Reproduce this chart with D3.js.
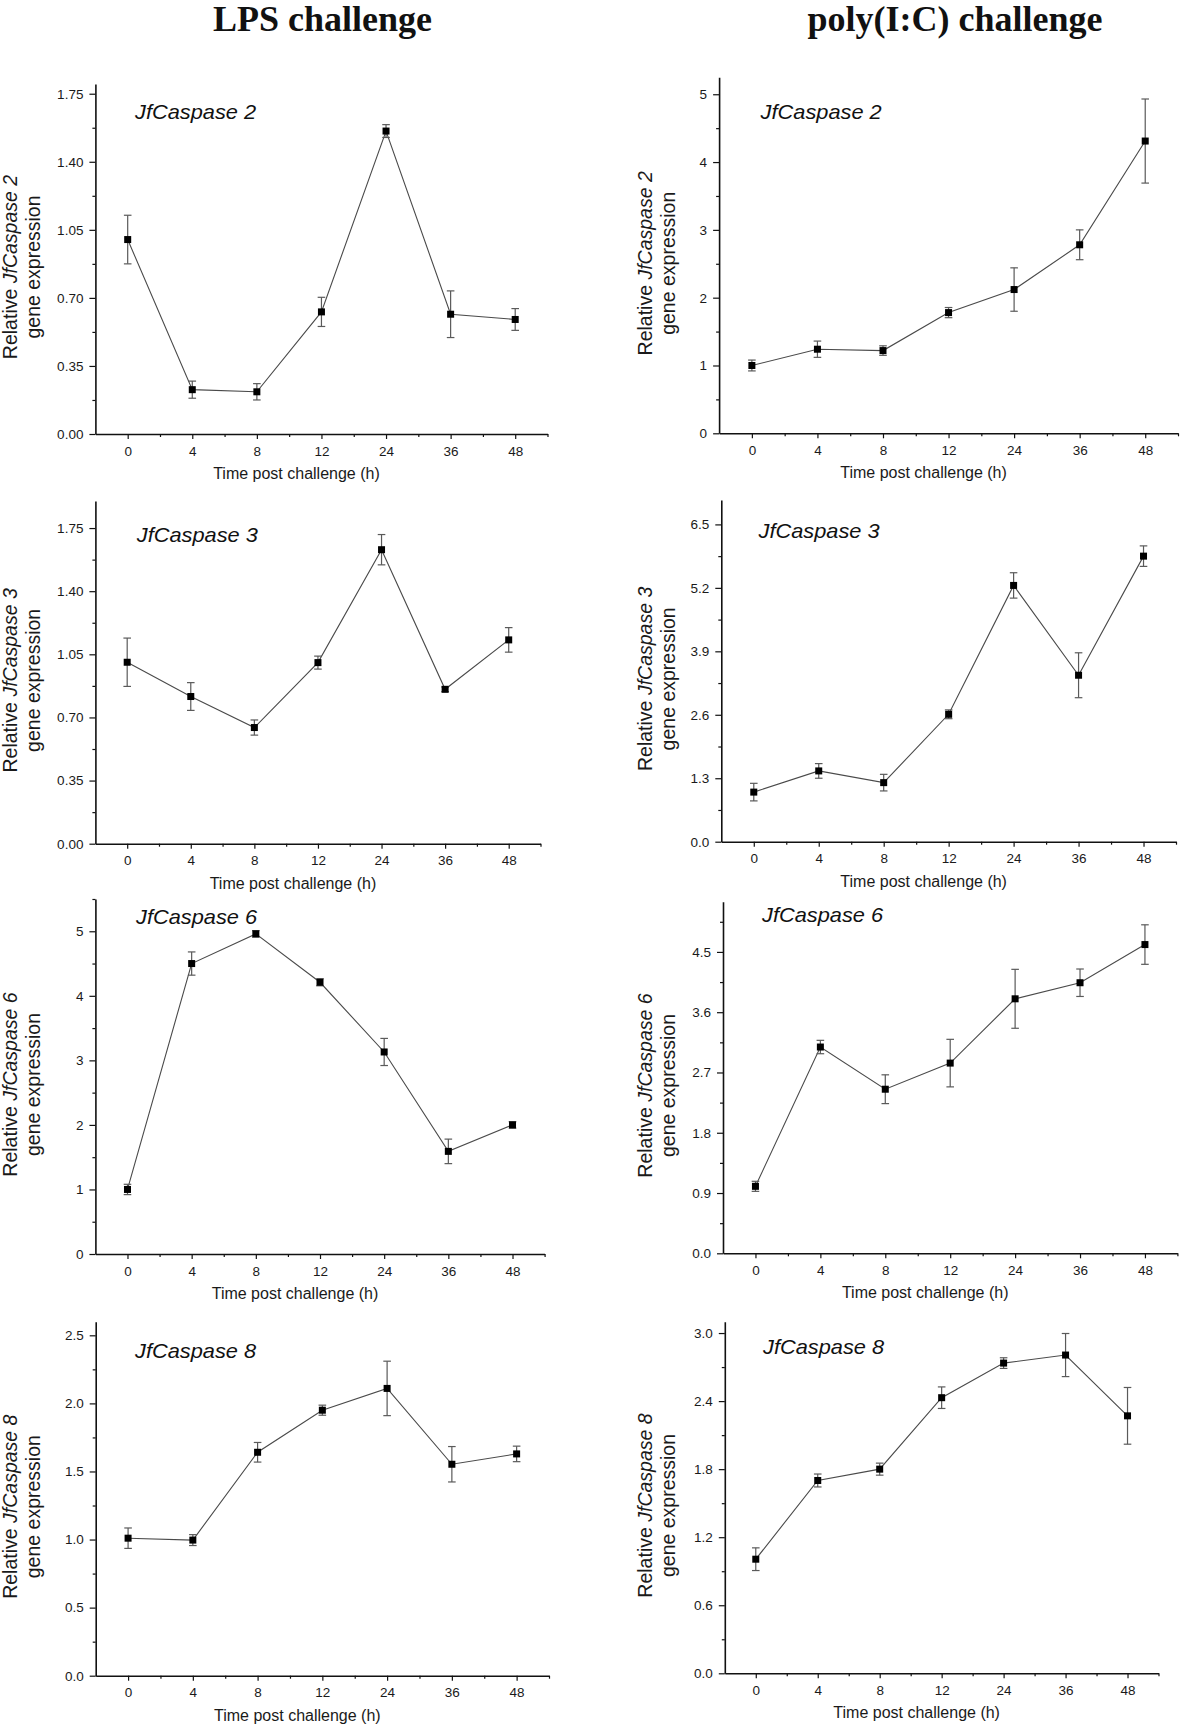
<!DOCTYPE html>
<html><head><meta charset="utf-8">
<script src="https://cdn.jsdelivr.net/npm/d3@7"></script>
<style>body{margin:0;background:#fff}</style>
</head><body>
<svg id="chart" width="1181" height="1724"></svg>
<script>
// ---------- DATA ----------
const timePoints = ["0","4","8","12","24","36","48"];
const genes = ["JfCaspase 2","JfCaspase 3","JfCaspase 6","JfCaspase 8"];
const challenges = ["LPS challenge","poly(I:C) challenge"];
const xAxisTitle = "Time post challenge (h)";

// LPS challenge
const lpsCasp2Mean = [1.00, 0.228, 0.217, 0.628, 1.558, 0.616, 0.589];
const lpsCasp2Err  = [0.125, 0.044, 0.042, 0.075, 0.033, 0.120, 0.056];
const lpsCasp3Mean = [1.006, 0.816, 0.644, 1.004, 1.630, 0.856, 1.130];
const lpsCasp3Err  = [0.134, 0.077, 0.042, 0.036, 0.084, 0.013, 0.068];
const lpsCasp6Mean = [1.00, 4.50, 4.96, 4.21, 3.13, 1.59, 2.00];
const lpsCasp6Err  = [0.08, 0.18, 0.05, 0.055, 0.21, 0.19, 0.05];
const lpsCasp8Mean = [1.01, 0.996, 1.641, 1.95, 2.11, 1.553, 1.629];
const lpsCasp8Err  = [0.075, 0.04, 0.072, 0.037, 0.20, 0.13, 0.057];

// poly(I:C) challenge
const polyCasp2Mean = [1.00, 1.24, 1.22, 1.78, 2.12, 2.78, 4.31];
const polyCasp2Err  = [0.08, 0.12, 0.07, 0.075, 0.32, 0.22, 0.62];
const polyCasp3Mean = [1.016, 1.45, 1.21, 2.61, 5.25, 3.41, 5.85];
const polyCasp3Err  = [0.18, 0.15, 0.17, 0.09, 0.26, 0.46, 0.21];
const polyCasp6Mean = [1.00, 3.08, 2.45, 2.84, 3.80, 4.04, 4.61];
const polyCasp6Err  = [0.075, 0.10, 0.215, 0.355, 0.44, 0.205, 0.295];
const polyCasp8Mean = [1.006, 1.70, 1.80, 2.43, 2.735, 2.806, 2.27];
const polyCasp8Err  = [0.10, 0.057, 0.053, 0.095, 0.047, 0.19, 0.25];

// y tick labels per panel
const ticksA = ["0.00","0.35","0.70","1.05","1.40","1.75"];
const ticksB = ["0","1","2","3","4","5"];
const ticksC = ["0.0","1.3","2.6","3.9","5.2","6.5"];
const ticksD = ["0.0","0.9","1.8","2.7","3.6","4.5"];
const ticksE = ["0.0","0.5","1.0","1.5","2.0","2.5"];
const ticksF = ["0.0","0.6","1.2","1.8","2.4","3.0"];
// y axis upper limits per panel (row-major: LPS, poly)
const yMaxes = [1.8, 5.25, 1.9, 7.0, 5.5, 5.25, 2.6, 3.1];

const panels = [
  {gene:0, ch:0, mean:lpsCasp2Mean,  err:lpsCasp2Err,  ticks:ticksA},
  {gene:0, ch:1, mean:polyCasp2Mean, err:polyCasp2Err, ticks:ticksB},
  {gene:1, ch:0, mean:lpsCasp3Mean,  err:lpsCasp3Err,  ticks:ticksA},
  {gene:1, ch:1, mean:polyCasp3Mean, err:polyCasp3Err, ticks:ticksC},
  {gene:2, ch:0, mean:lpsCasp6Mean,  err:lpsCasp6Err,  ticks:ticksB},
  {gene:2, ch:1, mean:polyCasp6Mean, err:polyCasp6Err, ticks:ticksD},
  {gene:3, ch:0, mean:lpsCasp8Mean,  err:lpsCasp8Err,  ticks:ticksE},
  {gene:3, ch:1, mean:polyCasp8Mean, err:polyCasp8Err, ticks:ticksF}
];

// ---------- LAYOUT ----------
const layout = [
  {x0:95.4,  x1:547.5,  top:84,     bottom:434,    lx:135,   ly:119.3},
  {x0:719.1, x1:1178,   top:77.3,   bottom:433.3,  lx:760.6, ly:119},
  {x0:95.4,  x1:540.5,  top:501,    bottom:843.7,  lx:136.8, ly:541.7},
  {x0:721.3, x1:1176,   top:500,    bottom:841.7,  lx:758.5, ly:537.7},
  {x0:95.4,  x1:544.6,  top:899,    bottom:1254,   lx:136,   ly:924},
  {x0:723,   x1:1177.4, top:901.7,  bottom:1253.3, lx:762,   ly:921.7},
  {x0:95.7,  x1:549,    top:1321.7, bottom:1675.7, lx:135,   ly:1357.7},
  {x0:724.8, x1:1158.5, top:1321.7, bottom:1673.3, lx:763,   ly:1354}
];
const yLabelX = [[17, 40], [652, 675]];
const titleCenters = [322.5, 955];

const SANS = "'Liberation Sans', Arial, Helvetica, sans-serif";
const svg = d3.select("#chart");
svg.append("rect").attr("width",1181).attr("height",1724).attr("fill","#fff");

challenges.forEach((t,i)=>{
  svg.append("text").attr("x", titleCenters[i]).attr("y", 31)
    .attr("text-anchor","middle")
    .attr("font-family","'Liberation Serif','Times New Roman',Times,serif")
    .attr("font-weight","bold").attr("font-size",36).attr("fill","#111")
    .text(t);
});

panels.forEach((p, idx)=>{
  const L = layout[idx];
  const yMax = yMaxes[idx];
  const g = svg.append("g");
  const x = d3.scalePoint().domain(timePoints).range([L.x0, L.x1]).padding(0.5);
  const xMinor = d3.scaleLinear().domain([-0.5, timePoints.length-0.5]).range([L.x0, L.x1]);
  const y = d3.scaleLinear().domain([0, yMax]).range([L.bottom, L.top]);

  const majors = p.ticks.map(Number);
  const stepV = majors[1]-majors[0];
  const minors = [];
  majors.forEach(v=>{ const m = v + stepV/2; if (m <= yMax + 1e-9) minors.push(m); });
  const xMinorVals = d3.range(timePoints.length).map(i=>i+0.5);

  // minor y ticks
  g.append("g").attr("transform",`translate(${L.x0},0)`)
    .call(d3.axisLeft(y).tickValues(minors).tickSize(3).tickFormat(""))
    .call(s=>s.select(".domain").remove());
  // major y axis
  g.append("g").attr("transform",`translate(${L.x0},0)`)
    .call(d3.axisLeft(y).tickValues(majors).tickFormat((d,i)=>p.ticks[i]).tickSize(6).tickSizeOuter(0).tickPadding(6));
  // minor x ticks
  g.append("g").attr("transform",`translate(0,${L.bottom})`)
    .call(d3.axisBottom(xMinor).tickValues(xMinorVals).tickSize(3).tickFormat(""))
    .call(s=>s.select(".domain").remove());
  // major x axis
  g.append("g").attr("transform",`translate(0,${L.bottom})`)
    .call(d3.axisBottom(x).tickSize(5).tickSizeOuter(0).tickPadding(7));

  g.selectAll(".domain").attr("stroke","#111").attr("stroke-width",1.6);
  g.selectAll(".tick line").attr("stroke","#111").attr("stroke-width",1.2);
  g.selectAll("g").attr("font-family",SANS).attr("font-size",13.5);
  g.selectAll(".tick text").attr("font-family",SANS).attr("font-size",13.5).attr("fill","#1a1a1a");

  // line
  const line = d3.line().x((d,i)=>x(timePoints[i])).y(d=>y(d));
  g.append("path").datum(p.mean).attr("d",line)
    .attr("fill","none").attr("stroke","#4a4a4a").attr("stroke-width",1.1);

  // error bars
  const eb = g.append("g").attr("stroke","#5a5a5a").attr("stroke-width",1.2);
  p.mean.forEach((m,i)=>{
    const cx = x(timePoints[i]);
    const e = p.err[i];
    eb.append("line").attr("x1",cx).attr("x2",cx).attr("y1",y(m-e)).attr("y2",y(m+e));
    eb.append("line").attr("x1",cx-3.8).attr("x2",cx+3.8).attr("y1",y(m+e)).attr("y2",y(m+e));
    eb.append("line").attr("x1",cx-3.8).attr("x2",cx+3.8).attr("y1",y(m-e)).attr("y2",y(m-e));
  });

  // markers
  g.append("g").selectAll("rect").data(p.mean).join("rect")
    .attr("x",(d,i)=>x(timePoints[i])-3.5).attr("y",d=>y(d)-3.5)
    .attr("width",7).attr("height",7).attr("fill","#000");

  // panel label
  g.append("text").attr("transform",`translate(${L.lx},${L.ly}) scale(1.09,1)`)
    .attr("font-family",SANS).attr("font-style","italic").attr("font-size",20).attr("fill","#111")
    .text(genes[p.gene]);

  // x axis title
  g.append("text").attr("x",(L.x0+L.x1)/2 - 25).attr("y",L.bottom+45)
    .attr("text-anchor","middle").attr("font-family",SANS).attr("font-size",16).attr("fill","#1a1a1a")
    .text(xAxisTitle);

  // y axis title (two lines)
  const cy = (L.top + L.bottom)/2 + 8;
  const [lx1, lx2] = yLabelX[p.ch];
  const t1 = g.append("text").attr("transform",`translate(${lx1},${cy}) rotate(-90)`)
    .attr("text-anchor","middle").attr("font-family",SANS).attr("font-size",19.5).attr("fill","#1a1a1a");
  t1.append("tspan").text("Relative ");
  t1.append("tspan").attr("font-style","italic").text(genes[p.gene]);
  g.append("text").attr("transform",`translate(${lx2},${cy}) rotate(-90)`)
    .attr("text-anchor","middle").attr("font-family",SANS).attr("font-size",19.5).attr("fill","#1a1a1a")
    .text("gene expression");
});
</script>
</body></html>
